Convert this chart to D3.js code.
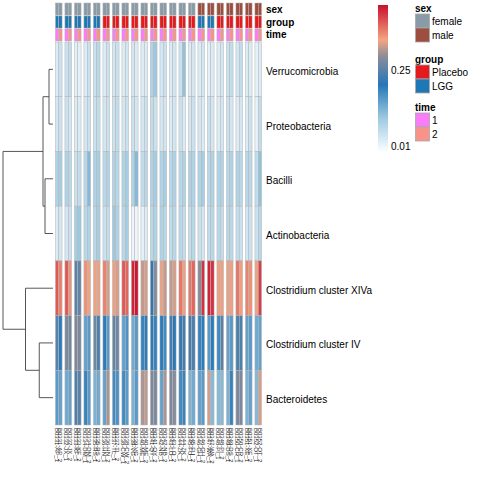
<!DOCTYPE html>
<html><head><meta charset="utf-8">
<script src="https://cdn.jsdelivr.net/npm/d3@7"></script>
<style>
html,body{margin:0;padding:0;background:#fff;}
svg{display:block;font-family:"Liberation Sans",Arial,Helvetica,sans-serif;}
</style></head>
<body><svg id="c" width="480" height="480"></svg>
<script>
// ---------------- data ----------------
const rowNames = ["Verrucomicrobia","Proteobacteria","Bacilli","Actinobacteria",
  "Clostridium cluster XIVa","Clostridium cluster IV","Bacteroidetes"];
const subjects = ["01","02","03","04","05","06","07","08","09","10","11",
  "12","13","14","15","16","17","18","19","20","21","22"];
const subjectIds = ["B0331-AP","B0332-JX","B0333-KF","B0334-DM","B0335-RS","B0336-HN",
  "B0337-TL","B0338-CW","B0339-VG","B0340-ME","B0341-QY","B0342-NB","B0343-LO",
  "B0344-ZK","B0345-FU","B0346-GH","B0347-WA","B0348-PI","B0349-DS","B0350-CR",
  "B0351-XE","B0352-OT"];
const timePoints = ["1","2"];
const subjectSex = ["female","female","female","female","female","female","female","female",
  "female","female","female","female","female","female","female",
  "male","male","male","male","male","male","male"];
const subjectGroup = ["LGG","LGG","LGG","LGG","LGG","Placebo","Placebo","Placebo","Placebo",
  "Placebo","Placebo","Placebo","Placebo","Placebo","Placebo","LGG","LGG",
  "Placebo","Placebo","Placebo","Placebo","Placebo"];
// values per row: subject 1 time 1, subject 1 time 2, subject 2 time 1, ...
const verrucomicrobia = [0.03,0.05, 0.05,0.06, 0.02,0.02, 0.03,0.05, 0.05,0.07, 0.03,0.05,
  0.04,0.05, 0.03,0.04, 0.04,0.03, 0.03,0.03, 0.08,0.10, 0.04,0.05, 0.03,0.04, 0.05,0.11,
  0.03,0.04, 0.03,0.04, 0.02,0.03, 0.03,0.04, 0.05,0.06, 0.04,0.06, 0.03,0.03, 0.02,0.03];
const proteobacteria = [0.04,0.05, 0.05,0.04, 0.03,0.03, 0.04,0.05, 0.05,0.06, 0.04,0.05,
  0.05,0.06, 0.04,0.05, 0.05,0.04, 0.04,0.05, 0.06,0.05, 0.04,0.04, 0.03,0.04, 0.05,0.03,
  0.04,0.05, 0.04,0.03, 0.05,0.04, 0.03,0.04, 0.05,0.04, 0.03,0.04, 0.03,0.05, 0.02,0.06];
const bacilli = [0.08,0.09, 0.08,0.07, 0.05,0.06, 0.07,0.12, 0.08,0.09, 0.07,0.08,
  0.08,0.07, 0.08,0.09, 0.08,0.12, 0.06,0.07, 0.08,0.09, 0.08,0.09, 0.07,0.08, 0.07,0.08,
  0.08,0.08, 0.08,0.09, 0.07,0.08, 0.08,0.08, 0.07,0.08, 0.08,0.07, 0.07,0.07, 0.06,0.11];
const actinobacteria = [0.03,0.04, 0.04,0.05, 0.09,0.10, 0.07,0.08, 0.07,0.09, 0.05,0.06,
  0.10,0.08, 0.07,0.09, 0.01,0.01, 0.02,0.03, 0.07,0.08, 0.08,0.07, 0.06,0.07, 0.07,0.06,
  0.06,0.07, 0.05,0.04, 0.06,0.07, 0.07,0.06, 0.07,0.07, 0.06,0.05, 0.04,0.05, 0.05,0.07];
const clostridiumXIVa = [0.40,0.37, 0.40,0.36, 0.25,0.26, 0.36,0.34, 0.34,0.34, 0.37,0.33,
  0.35,0.33, 0.40,0.39, 0.44,0.45, 0.32,0.33, 0.21,0.29, 0.34,0.32, 0.32,0.33, 0.38,0.35,
  0.38,0.39, 0.29,0.43, 0.44,0.43, 0.34,0.35, 0.35,0.34, 0.38,0.35, 0.37,0.36, 0.34,0.42];
const clostridiumIV = [0.25,0.20, 0.28,0.27, 0.28,0.28, 0.15,0.16, 0.27,0.24, 0.20,0.16,
  0.26,0.27, 0.15,0.17, 0.14,0.16, 0.19,0.20, 0.20,0.19, 0.20,0.18, 0.23,0.21, 0.22,0.23,
  0.23,0.24, 0.19,0.20, 0.16,0.20, 0.18,0.25, 0.15,0.16, 0.24,0.24, 0.15,0.16, 0.14,0.15];
const bacteroidetes = [0.16,0.15, 0.14,0.15, 0.24,0.25, 0.19,0.16, 0.13,0.14, 0.15,0.31,
  0.18,0.17, 0.18,0.16, 0.13,0.16, 0.31,0.32, 0.28,0.28, 0.15,0.31, 0.28,0.29, 0.18,0.19,
  0.13,0.14, 0.15,0.16, 0.33,0.12, 0.12,0.12, 0.13,0.19, 0.28,0.28, 0.13,0.15, 0.12,0.33];
const rowValues = [verrucomicrobia, proteobacteria, bacilli, actinobacteria,
  clostridiumXIVa, clostridiumIV, bacteroidetes];
// row dendrogram (hclust style: negative = leaf index, positive = earlier merge)
const dendroMerge = [[-1,-2],[-3,-4],[1,2],[-6,-7],[-5,4],[3,5]];
const dendroHeight = [0.08,0.16,0.20,0.275,0.55,1.0];
const legendTicks = [0.01, 0.25];
const valueRange = [0, 0.455];
const colorStops = [0, 0.10, 0.205, 0.295, 0.345, 0.455];
const colorRange = ["#F7FBFF","#9DC9E0","#2677B8","#8D8D98","#F4A582","#C9102C"];
const annNames = ["sex","group","time"];
const sexLevels = ["female","male"], sexColors = ["#8A9BA8","#9E4E3F"];
const groupLevels = ["Placebo","LGG"], groupColors = ["#E41A1C","#1F78B4"];
const timeLevels = ["1","2"], timeColors = ["#F97CF9","#F8938A"];

// ---------------- build ----------------
const svg = d3.select("#c");
const cells = [];
rowNames.forEach((r, ri) => subjects.forEach((s, si) => timePoints.forEach((t, ti) => {
  cells.push({row: r, subject: s, time: t, v: rowValues[ri][si * 2 + ti]});
})));

const heatLeft = 54, heatRight = 263, heatTop = 42, heatBottom = 425;
const xOuter = d3.scaleBand().domain(subjects).range([heatLeft, heatRight])
  .paddingInner(0.3).paddingOuter(0.15);
const xInner = d3.scaleBand().domain(timePoints).range([0, xOuter.bandwidth()]);
const y = d3.scaleBand().domain(rowNames).range([heatTop, heatBottom]);
const color = d3.scaleLinear().domain(colorStops).range(colorRange).clamp(true);

const borderCol = "#B4B4B4";
svg.append("g").selectAll("rect").data(cells).join("rect")
  .attr("x", d => xOuter(d.subject) + xInner(d.time))
  .attr("y", d => y(d.row))
  .attr("width", xInner.bandwidth())
  .attr("height", y.bandwidth())
  .attr("fill", d => color(d.v))
  .attr("stroke", borderCol).attr("stroke-width", 0.5);

// annotations
const ya = d3.scaleBand().domain(annNames).range([3, 41]).paddingInner(0.06);
const sexC = d3.scaleOrdinal().domain(sexLevels).range(sexColors);
const grpC = d3.scaleOrdinal().domain(groupLevels).range(groupColors);
const timC = d3.scaleOrdinal().domain(timeLevels).range(timeColors);
const annCells = [];
subjects.forEach((s, si) => timePoints.forEach(t => {
  annCells.push({a: "sex", subject: s, time: t, c: sexC(subjectSex[si])});
  annCells.push({a: "group", subject: s, time: t, c: grpC(subjectGroup[si])});
  annCells.push({a: "time", subject: s, time: t, c: timC(t)});
}));
svg.append("g").selectAll("rect").data(annCells).join("rect")
  .attr("x", d => xOuter(d.subject) + xInner(d.time))
  .attr("y", d => ya(d.a))
  .attr("width", xInner.bandwidth())
  .attr("height", ya.bandwidth())
  .attr("fill", d => d.c)
  .attr("stroke", borderCol).attr("stroke-width", 0.5);
svg.append("g").selectAll("text").data(annNames).join("text")
  .attr("x", 266).attr("y", d => ya(d) + ya.bandwidth() / 2)
  .attr("dy", "0.35em").attr("font-size", 10).attr("font-weight", "bold")
  .text(d => d);

// row labels
svg.append("g").selectAll("text").data(rowNames).join("text")
  .attr("x", 266).attr("y", d => y(d) + y.bandwidth() / 2 + 2)
  .attr("dy", "0.35em").attr("font-size", 10).text(d => d);

// column labels
const colLabels = [];
subjects.forEach((s, si) => timePoints.forEach(t => {
  colLabels.push({subject: s, time: t, label: subjectIds[si] + "_" + t});
}));
svg.append("g").selectAll("text").data(colLabels).join("text")
  .attr("transform", d => `translate(${xOuter(d.subject) + xInner(d.time) + xInner.bandwidth() / 2},428) rotate(90)`)
  .attr("dy", "0.35em").attr("font-size", 6).attr("fill", "#222").text(d => d.label);

// dendrogram
const xd = d3.scaleLinear().domain([0, 1]).range([53, 3]);
const nodes = [];
function pos(i) {
  if (i < 0) return {x: xd(0), y: y(rowNames[-i - 1]) + y.bandwidth() / 2};
  return nodes[i - 1];
}
const segs = [];
dendroMerge.forEach((m, k) => {
  const a = pos(m[0]), b = pos(m[1]);
  const nx = xd(dendroHeight[k]);
  nodes.push({x: nx, y: (a.y + b.y) / 2});
  segs.push(`M${a.x},${a.y}H${nx}V${b.y}H${b.x}`);
});
svg.append("g").selectAll("path").data(segs).join("path")
  .attr("d", d => d).attr("fill", "none").attr("stroke", "#444").attr("stroke-width", 0.9);

// colour legend
const yl = d3.scaleLinear().domain(valueRange).range([150, 5]);
const steps = d3.range(0, 146);
svg.append("g").selectAll("rect").data(steps).join("rect")
  .attr("x", 378).attr("width", 10)
  .attr("y", i => 5 + i).attr("height", 1.05)
  .attr("fill", i => color(yl.invert(5 + i + 0.5)));
svg.append("g").selectAll("text").data(legendTicks).join("text")
  .attr("x", 391).attr("y", d => yl(d)).attr("dy", "0.35em")
  .attr("font-size", 10).text(d => d3.format(".2f")(d));

// annotation legends
const legends = [
  {title: "sex", levels: sexLevels, colors: sexColors, top: 8},
  {title: "group", levels: groupLevels, colors: groupColors, top: 59},
  {title: "time", levels: timeLevels, colors: timeColors, top: 107}
];
legends.forEach(L => {
  const g = svg.append("g");
  g.append("text").attr("x", 415).attr("y", L.top).attr("dy", "0.35em")
    .attr("font-size", 10).attr("font-weight", "bold").text(L.title);
  const yb = d3.scaleBand().domain(L.levels).range([L.top + 6, L.top + 6 + 14 * L.levels.length]);
  g.selectAll("rect").data(L.levels).join("rect")
    .attr("x", 415.5).attr("y", d => yb(d)).attr("width", 14).attr("height", yb.bandwidth())
    .attr("fill", (d, i) => L.colors[i]).attr("stroke", "#A8A8A8").attr("stroke-width", 0.8);
  g.selectAll("text.l").data(L.levels).join("text").attr("class", "l")
    .attr("x", 432).attr("y", d => yb(d) + yb.bandwidth() / 2).attr("dy", "0.35em")
    .attr("font-size", 10).text(d => d);
});
</script></body></html>
